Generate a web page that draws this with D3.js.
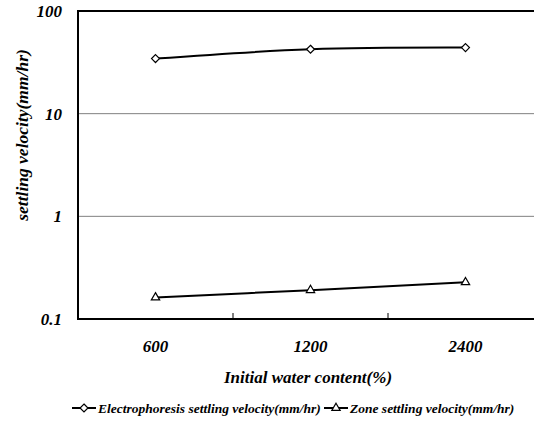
<!DOCTYPE html>
<html>
<head>
<meta charset="utf-8">
<script src="https://cdn.jsdelivr.net/npm/d3@7"></script>
<style>
  body { margin: 0; background: #fff; }
  svg { display: block; font-family: "Liberation Serif", "Times New Roman", serif; font-weight: bold; font-style: italic; }
</style>
</head>
<body>
<svg id="chart"></svg>
<script>
const width = 534;
const height = 421;

const categories = ['600', '1200', '2400'];
const electroValues = [34.4, 42.4, 44.0];
const zoneValues = [0.162, 0.191, 0.228];
const yTicks = [0.1, 1, 10, 100];
const seriesNames = ['Electrophoresis settling velocity(mm/hr)', 'Zone settling velocity(mm/hr)'];

const margin = { top: 11, left: 78, bottom: 102 };
const plotW = 465;
const plotH = height - margin.top - margin.bottom;

const svg = d3.select('#chart')
  .attr('width', width)
  .attr('height', height);

const x = d3.scaleBand()
  .domain(categories)
  .range([margin.left, margin.left + plotW]);

const y = d3.scaleLog()
  .domain([0.1, 100])
  .range([margin.top + plotH, margin.top]);

// gridlines
svg.append('g')
  .selectAll('line')
  .data(yTicks.filter(d => d > 0.1 && d < 100))
  .enter().append('line')
  .attr('x1', margin.left)
  .attr('x2', margin.left + plotW)
  .attr('y1', d => y(d))
  .attr('y2', d => y(d))
  .attr('stroke', '#808080')
  .attr('stroke-width', 1);

// frame
const frame = svg.append('g').attr('stroke', '#000').attr('stroke-width', 2).attr('fill', 'none');
frame.append('line')
  .attr('x1', margin.left).attr('x2', margin.left + plotW)
  .attr('y1', y(100)).attr('y2', y(100));
frame.append('line')
  .attr('x1', margin.left).attr('x2', margin.left + plotW)
  .attr('y1', y(0.1)).attr('y2', y(0.1));
frame.append('line')
  .attr('x1', margin.left).attr('x2', margin.left)
  .attr('y1', y(100) - 1).attr('y2', y(0.1) + 1);

// x ticks between categories, pointing inward
svg.append('g')
  .selectAll('line')
  .data(categories.slice(1))
  .enter().append('line')
  .attr('x1', d => x(d))
  .attr('x2', d => x(d))
  .attr('y1', y(0.1))
  .attr('y2', y(0.1) - 6)
  .attr('stroke', '#000')
  .attr('stroke-width', 1);

// y tick labels
svg.append('g')
  .selectAll('text')
  .data(yTicks)
  .enter().append('text')
  .attr('x', 62)
  .attr('y', d => y(d))
  .attr('dy', '0.35em')
  .attr('text-anchor', 'end')
  .attr('font-size', 17)
  .text(d => d);

// x tick labels
svg.append('g')
  .selectAll('text')
  .data(categories)
  .enter().append('text')
  .attr('x', d => x(d) + x.bandwidth() / 2)
  .attr('y', 352)
  .attr('text-anchor', 'middle')
  .attr('font-size', 17)
  .text(d => d);

// axis titles
svg.append('text')
  .attr('x', 308)
  .attr('y', 383)
  .attr('text-anchor', 'middle')
  .attr('font-size', 17)
  .text('Initial water content(%)');

svg.append('text')
  .attr('transform', 'translate(28,135) rotate(-90)')
  .attr('text-anchor', 'middle')
  .attr('font-size', 17.5)
  .text('settling velocity(mm/hr)');

// series
const line = d3.line()
  .x((d, i) => x(categories[i]) + x.bandwidth() / 2)
  .y(d => y(d))
  .curve(d3.curveCatmullRom.alpha(0.5));

svg.append('path')
  .datum(electroValues)
  .attr('d', line)
  .attr('fill', 'none')
  .attr('stroke', '#000')
  .attr('stroke-width', 2);

svg.append('path')
  .datum(zoneValues)
  .attr('d', line)
  .attr('fill', 'none')
  .attr('stroke', '#000')
  .attr('stroke-width', 2);

const diamond = d3.symbol().type(d3.symbolDiamond2).size(40);
const triangle = d3.symbol().type(d3.symbolTriangle2).size(50);

svg.append('g')
  .selectAll('path')
  .data(electroValues)
  .enter().append('path')
  .attr('d', diamond)
  .attr('transform', (d, i) => `translate(${x(categories[i]) + x.bandwidth() / 2},${y(d)})`)
  .attr('fill', '#fff')
  .attr('stroke', '#000')
  .attr('stroke-width', 1.2);

svg.append('g')
  .selectAll('path')
  .data(zoneValues)
  .enter().append('path')
  .attr('d', triangle)
  .attr('transform', (d, i) => `translate(${x(categories[i]) + x.bandwidth() / 2},${y(d)})`)
  .attr('fill', '#fff')
  .attr('stroke', '#000')
  .attr('stroke-width', 1.2);

// legend
const legendY = 408;
const legendItems = [
  { name: seriesNames[0], x0: 72, shape: diamond },
  { name: seriesNames[1], x0: 324, shape: triangle }
];
const lg = svg.append('g')
  .selectAll('g')
  .data(legendItems)
  .enter().append('g');

lg.append('line')
  .attr('x1', d => d.x0)
  .attr('x2', d => d.x0 + 24)
  .attr('y1', legendY)
  .attr('y2', legendY)
  .attr('stroke', '#000')
  .attr('stroke-width', 2);

lg.append('path')
  .attr('d', d => d.shape())
  .attr('transform', d => `translate(${d.x0 + 12},${legendY})`)
  .attr('fill', '#fff')
  .attr('stroke', '#000')
  .attr('stroke-width', 1.2);

lg.append('text')
  .attr('x', d => d.x0 + 26)
  .attr('y', legendY)
  .attr('dy', '0.35em')
  .attr('font-size', 13.5)
  .text(d => d.name);
</script>
</body>
</html>
